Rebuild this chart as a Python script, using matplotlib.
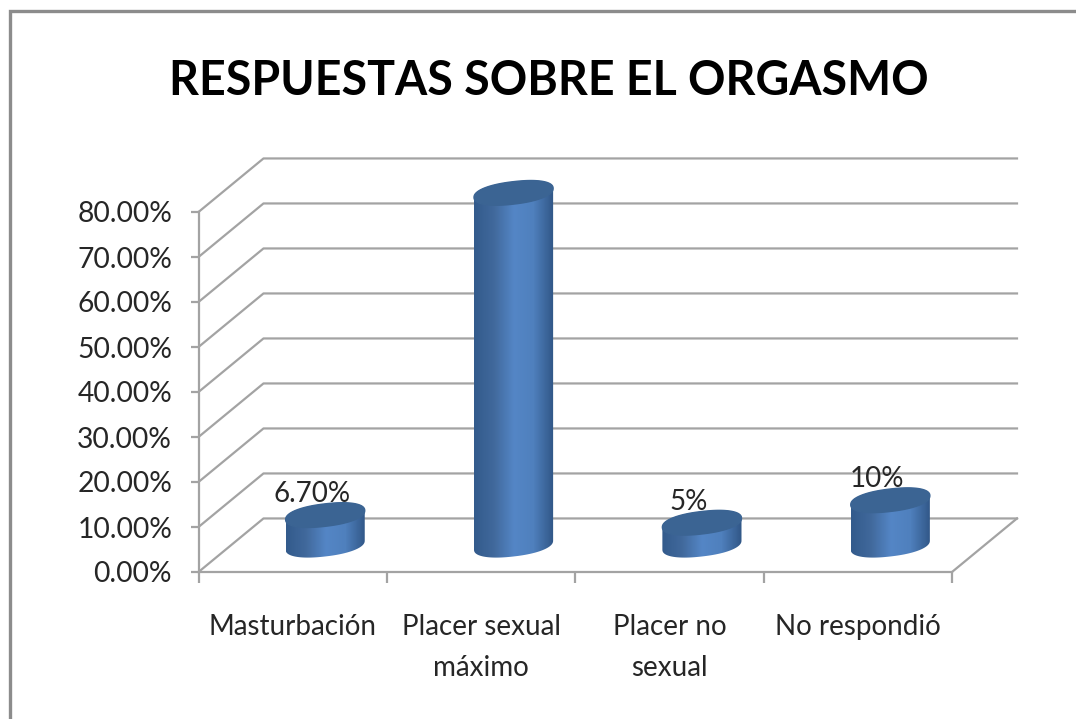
import numpy as np
import matplotlib
matplotlib.use('Agg')
import matplotlib.pyplot as plt
from matplotlib.colors import LinearSegmentedColormap
from matplotlib.lines import Line2D
from matplotlib.patches import Polygon

plt.rcParams['font.family'] = ['Lato', 'DejaVu Sans']

categories = ['Masturbación', 'Placer sexual\nmáximo', 'Placer no\nsexual', 'No respondió']
values = [6.7, 78.3, 5, 10]
value_labels = ['6.70%', '78.30%', '5%', '10%']
y_ticks = [0, 10, 20, 30, 40, 50, 60, 70, 80]
title = 'RESPUESTAS SOBRE EL ORGASMO'

W, H = 1076, 719
GRID = '#a3a3a3'
TEXT = '#262626'
# fake 3d depth, in data units
DEPTH_X = 0.345
DEPTH_Y = 11.9
HALF_W = 0.21
ELL_B = 2.5
ELL_S = 1.0

fig = plt.figure(figsize=(W / 100, H / 100), dpi=100)
fig.patch.set_facecolor('white')

# chart frame, only top and left are inside the crop
fig.add_artist(Line2D([10 / W, 10 / W, 1], [0, 1 - 10.5 / H, 1 - 10.5 / H],
                      transform=fig.transFigure, color='#8c8c8c', lw=2.4,
                      solid_joinstyle='miter'))

ax = fig.add_axes([198.5 / W, 1 - 572 / H, 753.5 / W, 360 / H])
ax.patch.set_alpha(0)
for s in ['top', 'right']:
    ax.spines[s].set_visible(False)
for s in ['left', 'bottom']:
    ax.spines[s].set_color(GRID)
    ax.spines[s].set_linewidth(1.6)

# back wall and floor lines
for v in y_ticks:
    ax.plot([0, DEPTH_X, 4 + DEPTH_X], [v, v + DEPTH_Y, v + DEPTH_Y],
            color=GRID, lw=1.6, clip_on=False, zorder=1)
ax.plot([4, 4 + DEPTH_X], [0, DEPTH_Y], color=GRID, lw=1.6, clip_on=False, zorder=1)

ax.set_xticks(range(5))
ax.set_xticklabels([])
ax.set_xticks(np.arange(len(categories)) + 0.5, categories, minor=True)
ax.tick_params(axis='x', which='major', length=8, width=1.6, color=GRID)
ax.tick_params(axis='x', which='minor', length=0, pad=30, labelsize=20, labelcolor=TEXT)
for lab in ax.get_xticklabels(minor=True):
    lab.set_linespacing(1.75)
ax.set_yticks(y_ticks, ['%.2f%%' % v for v in y_ticks])
ax.tick_params(axis='y', length=6, width=1.6, color=GRID, pad=13, labelsize=20.3, labelcolor=TEXT)

side = LinearSegmentedColormap.from_list('side', ['#335b8c', '#41699c', '#5486c6', '#4f80bd', '#315787'])
t = np.linspace(0, 2 * np.pi, 121)
# slightly squarish ellipse, the excel caps have round shoulders
cos_t = np.sign(np.cos(t)) * np.abs(np.cos(t)) ** 0.9
sin_t = np.sign(np.sin(t)) * np.abs(np.sin(t)) ** 0.9

for i, v in enumerate(values):
    cx = i + 0.5 + DEPTH_X / 2
    y0 = DEPTH_Y / 2
    x_e = cx + HALF_W * cos_t
    y_e = ELL_B * sin_t + ELL_S * cos_t
    # body: lower half of the bottom ellipse, upper half of the top one
    xs = np.concatenate([x_e[60:], x_e[:61]])
    ys = np.concatenate([y0 + y_e[60:], y0 + v + y_e[:61]])
    body = Polygon(np.column_stack([xs, ys]), closed=True, transform=ax.transData, fc='none', ec='none')
    ax.add_patch(body)
    im = ax.imshow(np.linspace(0, 1, 64)[None, :], cmap=side, aspect='auto',
                   extent=[cx - HALF_W, cx + HALF_W, y0 - 5, y0 + v + 5], zorder=3)
    im.set_clip_box(fig.bbox)
    im.set_clip_path(body)
    ax.fill(x_e, y0 + v + y_e, color='#3b6493', zorder=4, clip_on=False)
    ax.annotate(value_labels[i], (cx, y0 + v), xytext=(-9.4, 9.4), textcoords='offset points',
                ha='center', va='baseline', fontsize=20, color=TEXT, zorder=5)

ax.set_xlim(0, 4)
ax.set_ylim(0, 80)

fig.text(548.5 / W, 1 - 95 / H, title, ha='center', va='baseline', fontsize=33.5, fontweight='bold', color='black')

fig.savefig('out.png', dpi=100)
